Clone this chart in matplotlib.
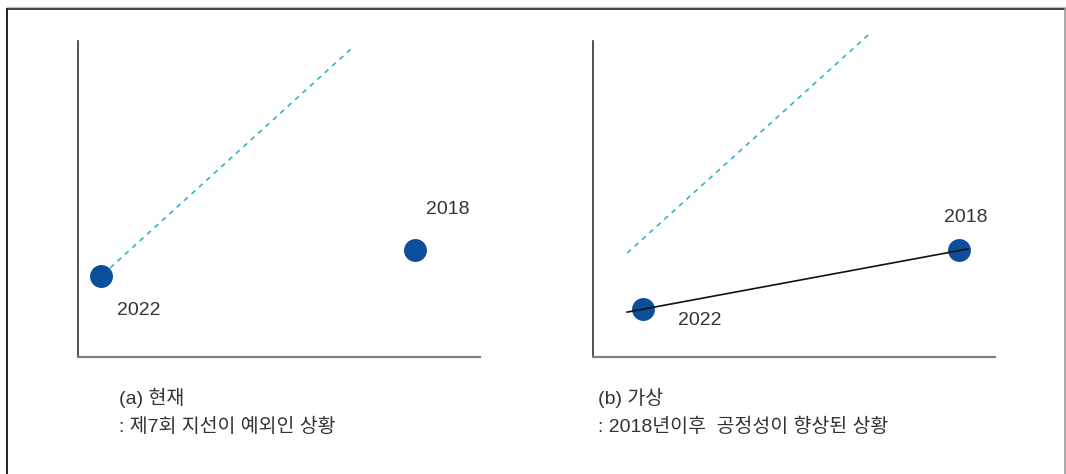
import matplotlib.pyplot as plt
from matplotlib.lines import Line2D

plt.rcParams['font.family'] = ['Liberation Sans', 'Noto Sans CJK KR', 'DejaVu Sans']

# panel (a): current
a_years = ['2022', '2018']
a_x = [5.7, 83.8]
a_y = [25.6, 33.9]
a_dash_x = [8.0, 68.7]
a_dash_y = [28.2, 98.4]
a_label_xy = [(15.1, 14.6), (92.0, 46.8)]

# panel (b): hypothetical
b_years = ['2022', '2018']
b_x = [12.4, 91.0]
b_y = [15.2, 33.9]
b_line_x = [8.5, 93.3]
b_line_y = [14.2, 34.2]
b_dash_x = [8.5, 68.7]
b_dash_y = [32.9, 102.2]
b_label_xy = [(26.6, 11.7), (92.8, 44.0)]

captions_a = ['(a) 현재', ': 제7회 지선이 예외인 상황']
captions_b = ['(b) 가상', ': 2018년이후  공정성이 향상된 상황']

BLUE = '#0b4f9b'
TEAL = '#35b2c6'
W, H = 1066, 474

fig = plt.figure(figsize=(W / 100, H / 100), dpi=100)


def setup(ax):
    ax.set_xlim(0, 100)
    ax.set_ylim(0, 100)
    ax.set_xticks([])
    ax.set_yticks([])
    for s in ['top', 'right']:
        ax.spines[s].set_visible(False)
    ax.spines['left'].set_color('#333333')
    ax.spines['bottom'].set_color('#808080')
    ax.spines['left'].set_linewidth(1.2)
    ax.spines['bottom'].set_linewidth(1.6)
    ax.patch.set_alpha(0)


ax1 = fig.add_axes([78 / W, 1 - 357 / H, 402 / W, 316 / H])
ax2 = fig.add_axes([593 / W, 1 - 357 / H, 402 / W, 316 / H])
setup(ax1)
setup(ax2)

ax1.plot(a_dash_x, a_dash_y, color=TEAL, lw=1.2, ls=(0, (3, 3)), clip_on=False)
ax1.plot(a_x, a_y, 'o', color=BLUE, ms=16.5, mec='none', clip_on=False)
for t, (x, y) in zip(a_years, a_label_xy):
    ax1.text(x, y, t, fontsize=14, color='#333333', ha='center', va='center')

ax2.plot(b_dash_x, b_dash_y, color=TEAL, lw=1.2, ls=(0, (3, 3)), clip_on=False)
ax2.plot(b_x, b_y, 'o', color=BLUE, ms=16.5, mec='none', clip_on=False, zorder=2)
ax2.plot(b_line_x, b_line_y, color='#111111', lw=1.2, clip_on=False, zorder=3)
for t, (x, y) in zip(b_years, b_label_xy):
    ax2.text(x, y, t, fontsize=14, color='#333333', ha='center', va='center')

for i, t in enumerate(captions_a):
    fig.text(119 / W, 1 - (398 + 29 * i) / H, t, fontsize=14, color='#333333',
             va='center', fontweight='light')
for i, t in enumerate(captions_b):
    fig.text(598 / W, 1 - (398 + 29 * i) / H, t, fontsize=14, color='#333333',
             va='center', fontweight='light')

# outer frame
fig.add_artist(Line2D([7 / W, 1065 / W], [1 - 7 / H, 1 - 7 / H], color='#c0c0c0', lw=1))
fig.add_artist(Line2D([7 / W, 1065 / W], [1 - 8.5 / H, 1 - 8.5 / H], color='#222222', lw=1.2))
fig.add_artist(Line2D([7 / W, 7 / W], [0, 1 - 8.5 / H], color='#222222', lw=1.4))
fig.add_artist(Line2D([1064.5 / W, 1064.5 / W], [0, 1 - 8.5 / H], color='#999999', lw=1.2))

fig.savefig('out.png', dpi=100)
